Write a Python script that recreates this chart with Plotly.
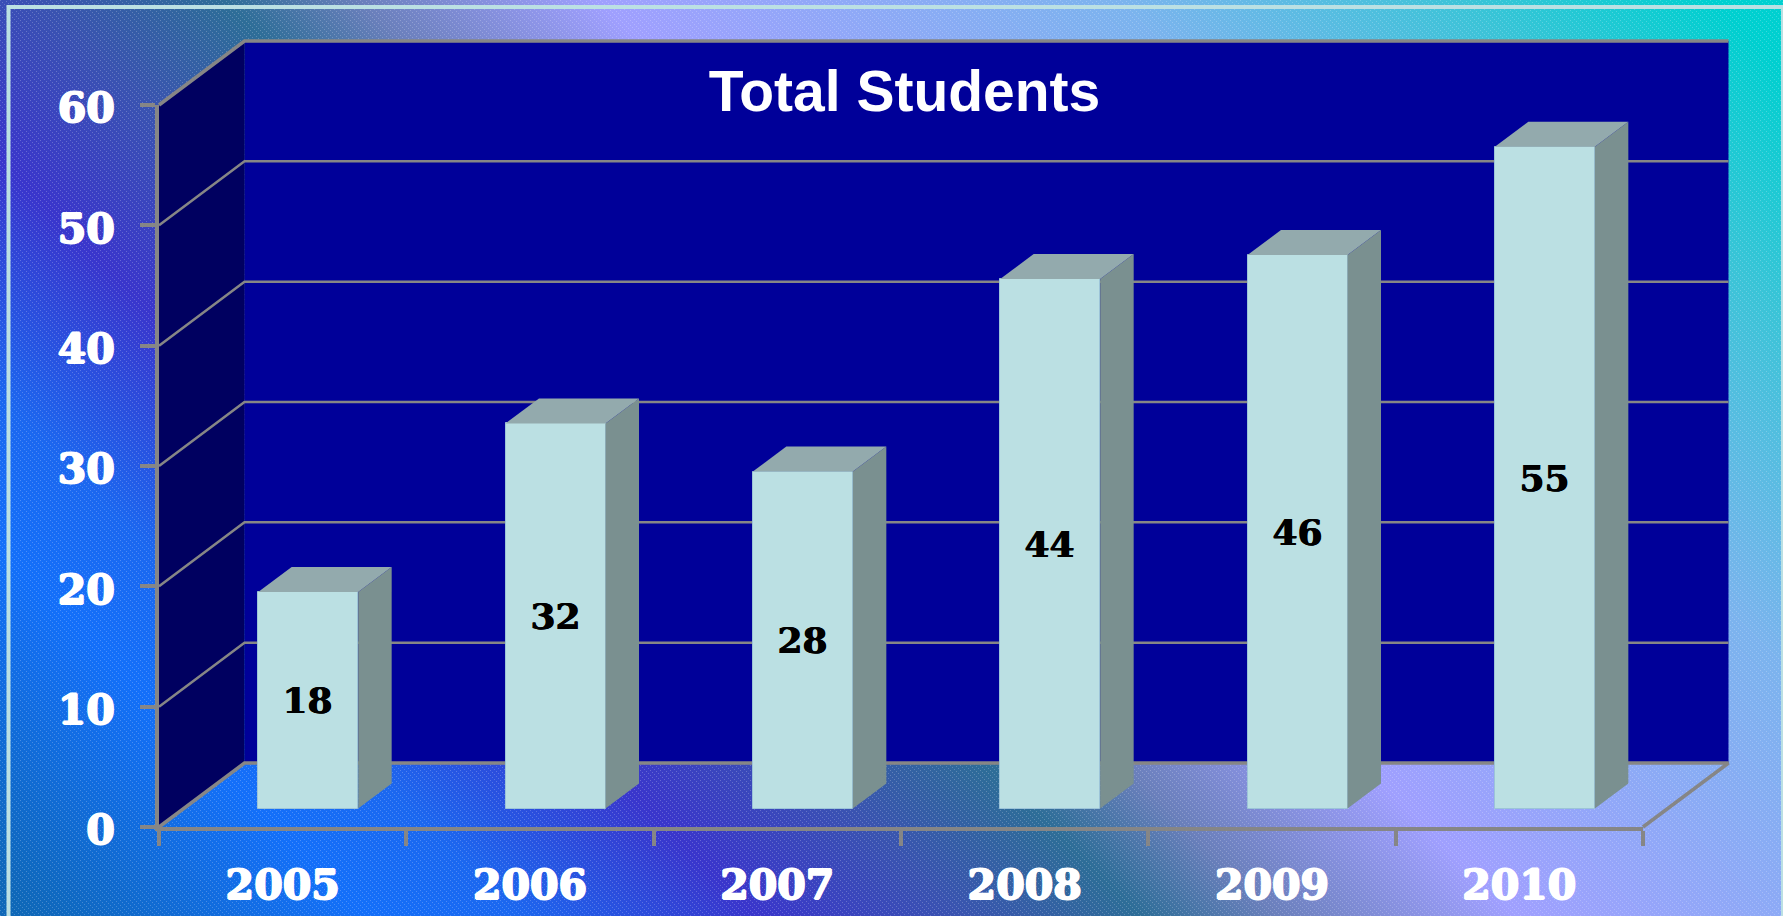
import base64, struct, zlib
import numpy as np
import plotly.graph_objects as go

# ---- data ----
years = ["2005", "2006", "2007", "2008", "2009", "2010"]
students = [18, 32, 28, 44, 46, 55]
y_ticks = [0, 10, 20, 30, 40, 50, 60]
title_text = "Total Students"

# ---- page and plot geometry ----
W, H = 1783, 916
L, R, T, B = 159, 140, 105, 89
PX_X = (W - L - R) / 6
PX_Y = (H - T - B) / 60
DEPTH_X, DEPTH_Y = 85.5 / PX_X, 64 / PX_Y      # wall depth in data units
BAR_OFF_X, BAR_BASE = 25.5 / PX_X, 18.5 / PX_Y # where the bars stand on the floor
BAR_DX, BAR_DY = 33.5 / PX_X, 25 / PX_Y        # bar depth
BAR_W = 100 / PX_X

GRAY = "#868686"
FRONT, SIDE, TOP = "#BBE0E3", "#7A9090", "#93AAAD"
BACK_WALL, SIDE_WALL = "#000099", "#000060"
FONT = "DejaVu Serif"
THICK = "1px 0 0 {c}, -1px 0 0 {c}, 0 1px 0 {c}, 0 -1px 0 {c}"


def background_png():
    stops_t = [-890, -550, -400, -160, 50, 224, 360, 600, 1120, 1463, 1715]
    stops_c = ["#0F68B8", "#1470FA", "#1C68F0", "#3A36CC", "#3A55B0", "#2E6E98", "#6B80BC",
               "#A0A0FF", "#7CB4EE", "#3CC4D8", "#00D0D0"]
    rgb = np.array([[int(c[i:i + 2], 16) for i in (1, 3, 5)] for c in stops_c], float)
    yy, xx = np.mgrid[0:H, 0:W]
    t = (xx - yy).astype(float)
    img = np.stack([np.interp(t, stops_t, rgb[:, k]) for k in range(3)], axis=-1)
    stripe = (((xx - yy) % 5 == 0) & (xx % 2 == 0))[..., None]
    img = np.where(stripe, img + (255 - img) * 0.22, img).clip(0, 255).astype(np.uint8)
    raw = b"".join(b"\x00" + row.tobytes() for row in img)

    def chunk(tag, data):
        return struct.pack(">I", len(data)) + tag + data + struct.pack(">I", zlib.crc32(tag + data))

    png = (b"\x89PNG\r\n\x1a\n" + chunk(b"IHDR", struct.pack(">IIBBBBB", W, H, 8, 2, 0, 0, 0))
           + chunk(b"IDAT", zlib.compress(raw, 9)) + chunk(b"IEND", b""))
    return "data:image/png;base64," + base64.b64encode(png).decode()


fig = go.Figure()
x0, x1 = -0.5, 5.5
y_max = y_ticks[-1]


def poly(xs, ys, color, axes=("x", "y")):
    fig.add_trace(go.Scatter(x=xs, y=ys, mode="lines", fill="toself", fillcolor=color,
                             line=dict(width=0, color=color), hoverinfo="skip",
                             showlegend=False, xaxis=axes[0], yaxis=axes[1]))


def seg(xs, ys, width):
    fig.add_trace(go.Scatter(x=xs, y=ys, mode="lines", line=dict(color=GRAY, width=width),
                             hoverinfo="skip", showlegend=False))


# walls live on a full-page axis pair with the same scale as the visible axes
poly([x0 + DEPTH_X, x1 + DEPTH_X, x1 + DEPTH_X, x0 + DEPTH_X],
     [DEPTH_Y, DEPTH_Y, y_max + DEPTH_Y, y_max + DEPTH_Y], BACK_WALL)
poly([x0, x0 + DEPTH_X, x0 + DEPTH_X, x0], [0, DEPTH_Y, y_max + DEPTH_Y, y_max], SIDE_WALL)

for v in y_ticks[1:-1]:
    seg([x0, x0 + DEPTH_X, x1 + DEPTH_X], [v, v + DEPTH_Y, v + DEPTH_Y], 2.5)
seg([x0, x0 + DEPTH_X, x1 + DEPTH_X], [y_max, y_max + DEPTH_Y, y_max + DEPTH_Y], 3.5)
seg([x0, x0 + DEPTH_X, x1 + DEPTH_X, x1], [0, DEPTH_Y, DEPTH_Y, 0], 3.5)

# bars on the visible axes, which paint above the walls
xs_front = [i + BAR_OFF_X for i in range(len(years))]
fig.add_trace(go.Bar(x=xs_front, y=students, base=BAR_BASE, width=BAR_W,
                     marker=dict(color=FRONT, line=dict(color="#9CC4D8", width=1)),
                     text=[str(v) for v in students], textposition="inside",
                     insidetextanchor="middle", textangle=0, constraintext="none",
                     textfont=dict(family=FONT, size=36, color="black", weight="bold",
                                   shadow="0.5px 0 0 #000, -0.5px 0 0 #000"),
                     hoverinfo="skip", showlegend=False, xaxis="x2", yaxis="y2"))
for xc, v in zip(xs_front, students):
    a, b = xc - BAR_W / 2, xc + BAR_W / 2
    top = v + BAR_BASE
    poly([b, b + BAR_DX, b + BAR_DX, b],
         [BAR_BASE, BAR_BASE + BAR_DY, top + BAR_DY, top], SIDE, ("x2", "y2"))
    poly([a, a + BAR_DX, b + BAR_DX, b], [top, top + BAR_DY, top + BAR_DY, top], TOP, ("x2", "y2"))

axis_common = dict(showgrid=False, zeroline=False, showline=True, linecolor=GRAY, linewidth=4,
                   automargin=False)
tick_font = dict(family=FONT, size=41, color="white", weight="bold",
                 shadow=THICK.format(c="#fff"))
fig.update_layout(
    template="none",
    width=W, height=H, margin=dict(l=0, r=0, t=0, b=0, pad=0),
    paper_bgcolor="#3C38D0", plot_bgcolor="rgba(0,0,0,0)",
    showlegend=False, bargap=0,
    title=dict(text=title_text, x=904.5 / W, y=1 - 91 / H, xanchor="center", yanchor="middle",
               xref="paper", yref="container", automargin=False,
               font=dict(family="Liberation Sans", size=57, color="white", weight="bold")),
    # full-page axes for the walls: range extended so one unit matches the visible axes
    xaxis=dict(domain=[0, 1], range=[x0 - L / PX_X, x1 + R / PX_X], visible=False, fixedrange=True),
    yaxis=dict(domain=[0, 1], range=[-B / PX_Y, y_max + T / PX_Y], visible=False, fixedrange=True),
    xaxis2=dict(domain=[L / W, 1 - R / W], anchor="y2", range=[x0, x1], tickmode="array",
                tickvals=list(range(len(years))), ticktext=years, ticks="", tickfont=tick_font,
                ticklabelstandoff=19,
                minor=dict(tickmode="array", tickvals=[x0 + i for i in range(len(years) + 1)],
                           ticks="outside", ticklen=15, tickwidth=4, tickcolor=GRAY),
                **axis_common),
    yaxis2=dict(domain=[B / H, 1 - T / H], anchor="x2", range=[0, y_max], tickmode="array",
                tickvals=y_ticks, ticks="outside", ticklen=15, tickwidth=4, tickcolor=GRAY,
                ticklabelstandoff=17, ticklabelshift=3, tickfont=tick_font, **axis_common),
    images=[dict(source=background_png(), xref="paper", yref="paper", x=0, y=1, sizex=1, sizey=1,
                 xanchor="left", yanchor="top", sizing="stretch", layer="below")],
    shapes=[dict(type="rect", xref="paper", yref="paper",
                 x0=8.5 / W, x1=1, y0=-20 / H, y1=1 - 7 / H,
                 line=dict(color="#BBE0E3", width=4), layer="below")],
)

fig.write_html("out.html", config=dict(displayModeBar=False),
               post_script="document.body.style.margin='0';document.body.style.overflow='hidden';")
